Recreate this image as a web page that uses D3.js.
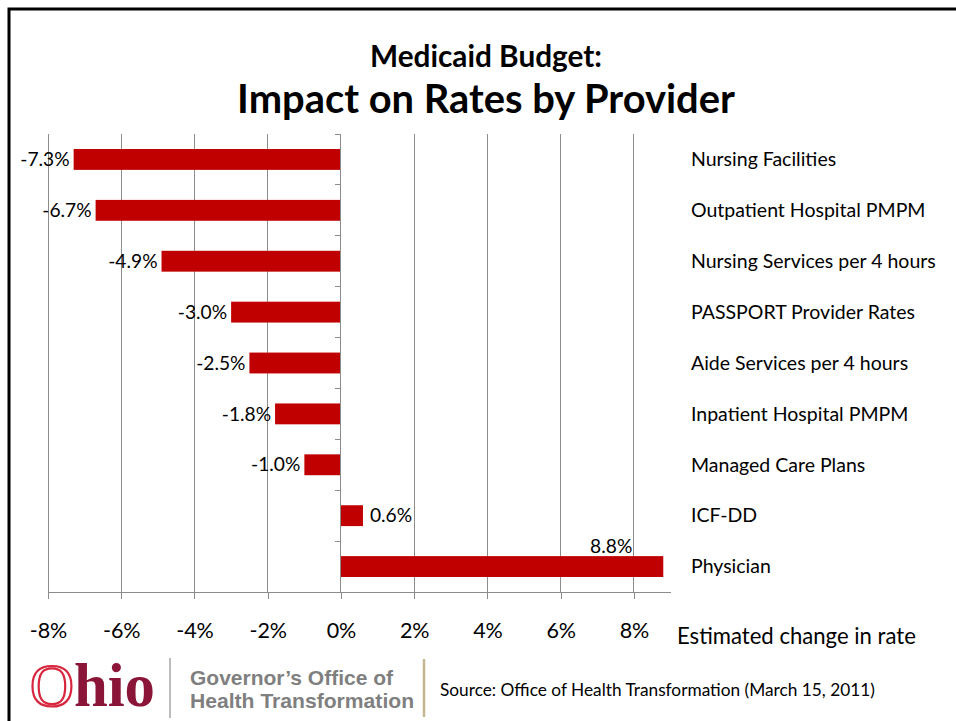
<!DOCTYPE html>
<html>
<head>
<meta charset="utf-8">
<script src="https://cdn.jsdelivr.net/npm/d3@7/dist/d3.min.js"></script>
<style>
  html, body { margin: 0; padding: 0; background: #fff; }
  svg { display: block; }
</style>
</head>
<body>
<svg id="chart" width="956" height="721"></svg>
<script>
// Provider categories, top to bottom
const providers = [
  "Nursing Facilities",
  "Outpatient Hospital PMPM",
  "Nursing Services per 4 hours",
  "PASSPORT Provider Rates",
  "Aide Services per 4 hours",
  "Inpatient Hospital PMPM",
  "Managed Care Plans",
  "ICF-DD",
  "Physician"
];
// Estimated change in rate (%)
const rateChange = [-7.3, -6.7, -4.9, -3.0, -2.5, -1.8, -1.0, 0.6, 8.8];
// Axis ticks (%)
const xTicks = [-8, -6, -4, -2, 0, 2, 4, 6, 8];
const xDomain = [-8, 9];

const titleLine1 = "Medicaid Budget:";
const titleLine2 = "Impact on Rates by Provider";
const axisTitle = "Estimated change in rate";
const sourceNote = "Source: Office of Health Transformation (March 15, 2011)";

const data = providers.map((p, i) => ({ name: p, value: rateChange[i] }));

const svg = d3.select("#chart");
const FONT = "Lato, 'Open Sans', sans-serif";

// shrink/grow a text element's font size so it spans the given width
function fitWidth(sel, w) {
  const node = sel.node();
  const fs = parseFloat(sel.attr("font-size"));
  const cur = node.getComputedTextLength();
  if (cur > 0) sel.attr("font-size", (fs * w / cur).toFixed(2));
  return sel;
}

// slide frame (only top and left edges fall inside the view)
svg.append("rect")
  .attr("x", 9).attr("y", 9)
  .attr("width", 1000).attr("height", 800)
  .attr("fill", "none").attr("stroke", "#000").attr("stroke-width", 3);

// titles
fitWidth(svg.append("text")
  .attr("x", 486).attr("y", 67)
  .attr("text-anchor", "middle")
  .attr("font-family", FONT).attr("font-weight", "bold")
  .attr("font-size", 25).attr("fill", "#000")
  .text(titleLine1), 232);

fitWidth(svg.append("text")
  .attr("x", 486).attr("y", 113)
  .attr("text-anchor", "middle")
  .attr("font-family", FONT).attr("font-weight", "bold")
  .attr("font-size", 36).attr("fill", "#000")
  .text(titleLine2), 498);

// plot area
const plot = { left: 48, right: 670.6, top: 134, bottom: 592 };

const x = d3.scaleLinear().domain(xDomain).range([plot.left, plot.right]);
const y = d3.scaleBand().domain(providers).range([plot.top, plot.bottom])
  .paddingInner(0.59).paddingOuter(0.295);
const yb = d3.scaleBand().domain(providers).range([plot.top, plot.bottom]);

const gridColor = "#8c8c8c";

// vertical gridlines
svg.append("g").selectAll("line")
  .data(xTicks.filter(t => t !== 0))
  .join("line")
  .attr("x1", d => x(d)).attr("x2", d => x(d))
  .attr("y1", plot.top).attr("y2", plot.bottom)
  .attr("stroke", gridColor).attr("stroke-width", 1)
  .attr("shape-rendering", "crispEdges");

// bars
svg.append("g").selectAll("rect")
  .data(data)
  .join("rect")
  .attr("x", d => x(Math.min(0, d.value)))
  .attr("width", d => Math.abs(x(d.value) - x(0)))
  .attr("y", d => y(d.name))
  .attr("height", y.bandwidth())
  .attr("fill", "#c00000");

// x axis
const xAxis = d3.axisBottom(x)
  .tickValues(xTicks)
  .tickSize(7)
  .tickPadding(24)
  .tickFormat(d => d + "%");
const gx = svg.append("g")
  .attr("transform", `translate(0,${plot.bottom})`)
  .call(xAxis);
gx.select(".domain").attr("stroke", gridColor).attr("shape-rendering", "crispEdges")
  .attr("d", `M${plot.left},0H${plot.right}`);
gx.selectAll(".tick line").attr("stroke", gridColor).attr("shape-rendering", "crispEdges");
gx.selectAll(".tick text")
  .attr("font-family", FONT).attr("font-size", 21.5).attr("fill", "#000");

// category axis along zero line
const yAxis = d3.axisLeft(yb).tickSize(0).tickFormat("");
const gy = svg.append("g")
  .attr("transform", `translate(${x(0)},0)`)
  .call(yAxis);
gy.select(".domain").attr("stroke", gridColor).attr("shape-rendering", "crispEdges")
  .attr("d", `M0,${plot.top}V${plot.bottom}`);
// boundary tick marks between categories
gy.append("g").selectAll("line")
  .data(providers)
  .join("line")
  .attr("x1", -6).attr("x2", 0)
  .attr("y1", d => yb(d)).attr("y2", d => yb(d))
  .attr("stroke", gridColor).attr("shape-rendering", "crispEdges");

// category labels on right
svg.append("g").selectAll("text")
  .data(data)
  .join("text")
  .attr("x", 691)
  .attr("y", d => y(d.name) + y.bandwidth() / 2)
  .attr("dy", "0.35em")
  .attr("font-family", FONT).attr("font-size", 19.5).attr("fill", "#000")
  .text(d => d.name);

// value labels
const fmt = v => v.toFixed(1) + "%";
const last = data[data.length - 1];
svg.append("g").selectAll("text")
  .data(data)
  .join("text")
  .attr("x", d => d === last ? x(d.value) - 31 : (d.value < 0 ? x(d.value) - 4 : x(d.value) + 7))
  .attr("y", d => d === last ? y(d.name) - 10 : y(d.name) + y.bandwidth() / 2)
  .attr("dy", "0.35em")
  .attr("text-anchor", d => (d.value < 0 || d === last) ? "end" : "start")
  .attr("font-family", FONT).attr("font-size", 19.2).attr("fill", "#000")
  .text(d => fmt(d.value));

// axis title
fitWidth(svg.append("text")
  .attr("x", 677).attr("y", 636)
  .attr("dy", "0.35em")
  .attr("font-family", FONT).attr("font-size", 21).attr("fill", "#000")
  .text(axisTitle), 239);

// footer logo block
const logo = svg.append("g");
const ohio = logo.append("text")
  .attr("x", 30).attr("y", 706)
  .attr("font-family", "'Liberation Serif', 'DejaVu Serif', serif")
  .attr("font-size", 56);
ohio.append("tspan").attr("fill", "none").attr("stroke", "#d7263d").attr("stroke-width", 2.2)
  .attr("font-weight", "normal").text("O");
ohio.append("tspan").attr("fill", "#8b1538").attr("font-weight", "bold").text("hio");
fitWidth(ohio, 125);

logo.append("line")
  .attr("x1", 170).attr("x2", 170).attr("y1", 658).attr("y2", 718)
  .attr("stroke", "#a6a6a6").attr("stroke-width", 1.5);

fitWidth(logo.append("text")
  .attr("x", 190).attr("y", 685)
  .attr("font-family", "'Liberation Sans', Arial, sans-serif").attr("font-weight", "bold")
  .attr("font-size", 19).attr("fill", "#7f7f7f")
  .text("Governor\u2019s Office of"), 203);
fitWidth(logo.append("text")
  .attr("x", 190).attr("y", 708)
  .attr("font-family", "'Liberation Sans', Arial, sans-serif").attr("font-weight", "bold")
  .attr("font-size", 19).attr("fill", "#7f7f7f")
  .text("Health Transformation"), 224);

logo.append("line")
  .attr("x1", 424).attr("x2", 424).attr("y1", 659).attr("y2", 717)
  .attr("stroke", "#c3b58f").attr("stroke-width", 2.5);

fitWidth(svg.append("text")
  .attr("x", 440).attr("y", 690)
  .attr("dy", "0.35em")
  .attr("font-family", FONT).attr("font-size", 15).attr("fill", "#000")
  .text(sourceNote), 435);
</script>
</body>
</html>
